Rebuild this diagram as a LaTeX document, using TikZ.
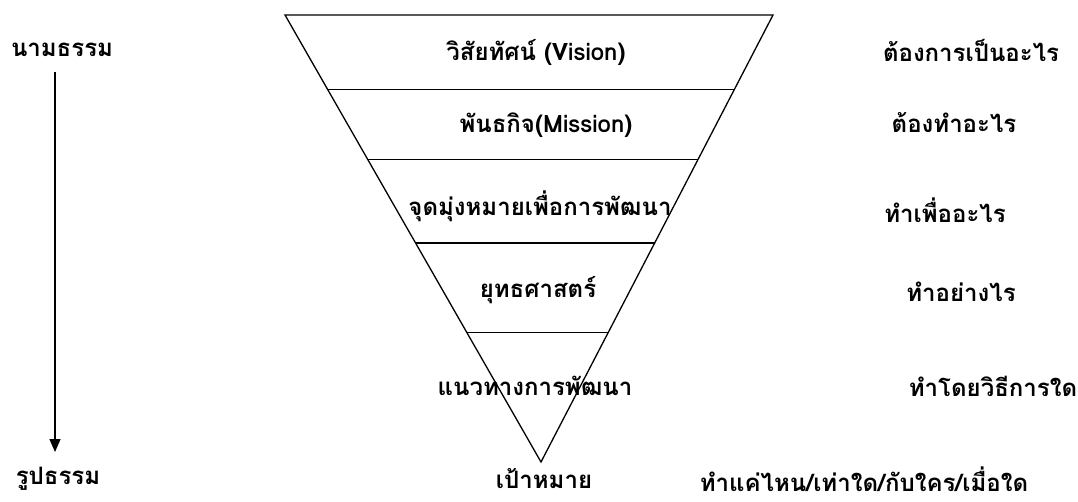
\documentclass[tikz,border=0pt]{standalone}
\usepackage{fontspec}
\setmainfont[Script=Thai]{Loma}
\usetikzlibrary{arrows.meta,calc}
\tikzset{
  lbl/.style={inner sep=0pt, font=\fontsize{24}{28}\selectfont\bfseries},
  edge/.style={line width=1.3pt},
  sep/.style={line width=1.3pt},
}
\begin{document}
\begin{tikzpicture}[x=1pt,y=-1pt]
\useasboundingbox (0,0) rectangle (1078,501);
% funnel
\coordinate (TL) at (285,15);
\coordinate (TR) at (773,15);
\coordinate (A) at (541,462);
\draw[edge, line join=miter] (TL) -- (TR) -- (A) -- cycle;
\foreach \t/\n in {0.1667/1,0.324/2,0.510/3,0.711/4}{
  \draw[sep] ($(TL)!\t!(A)$) -- ($(TR)!\t!(A)$);
}
% inside labels
\node[lbl] (v) at (536,52) {วิสัยทัศน์ (Vision)};
\node[lbl] (m) at (546,125) {พันธกิจ(Mission)};
\node[lbl] (g) at (540,206) {จุดมุ่งหมายเพื่อการพัฒนา};
\node[lbl] (s) at (538,290) {ยุทธศาสตร์};
\node[lbl] (w) at (535,386) {แนวทางการพัฒนา};
\node[lbl] (p) at (544,479) {เป้าหมาย};
% right labels
\node[lbl] (r1) at (971,50) {ต้องการเป็นอะไร};
\node[lbl] (r2) at (954,123) {ต้องทำอะไร};
\node[lbl] (r3) at (945,210) {ทำเพื่ออะไร};
\node[lbl] (r4) at (961,292) {ทำอย่างไร};
\node[lbl] (r5) at (993,386) {ทำโดยวิธีการใด};
\node[lbl] (r6) at (864,479) {ทำแค่ไหน/เท่าใด/กับใคร/เมื่อใด};
% left
\node[lbl] (nam) at (62,50) {นามธรรม};
\node[lbl] (rup) at (58,479) {รูปธรรม};
\coordinate (a1) at (55,72);
\coordinate (a2) at (55,452);
\draw[edge, -{Triangle[width=11pt,length=13pt]}] (a1) -- (a2);
\end{tikzpicture}
\end{document}
